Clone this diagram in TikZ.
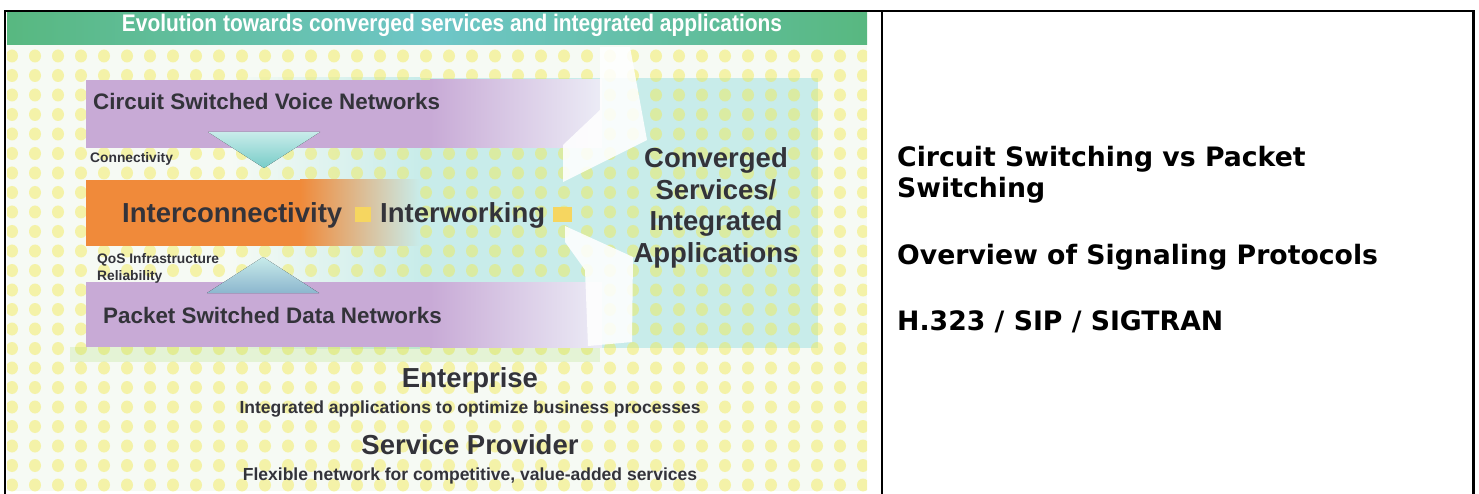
\documentclass[tikz,border=0pt]{standalone}
\usepackage{fontspec}
\usepackage{graphicx}
\setmainfont{Liberation Sans}
\newfontfamily\verdana{DejaVu Sans}
\newcommand\pxfont[1]{\fontsize{#1}{#1}\selectfont}
\definecolor{ink}{RGB}{51,51,58}
\definecolor{bgwash}{RGB}{246,250,244}
\definecolor{dotyellow}{RGB}{242,234,76}
\definecolor{titlegreen}{RGB}{88,184,128}
\definecolor{titleteal}{RGB}{110,198,200}
\definecolor{bandpurple}{RGB}{200,170,214}
\definecolor{bandpale}{RGB}{236,236,246}
\definecolor{bandorange}{RGB}{240,138,58}
\definecolor{cyanwash}{RGB}{200,236,234}
\definecolor{tricyan}{RGB}{120,204,200}
\definecolor{triblue}{RGB}{140,182,206}
\definecolor{spotyellow}{RGB}{246,214,96}
\tikzset{
  pic_txt/.style={inner sep=0pt, text=ink},
  label_big/.style={pic_txt, font=\pxfont{27.5}\bfseries},
  label_mid/.style={pic_txt, font=\pxfont{22.4}\bfseries},
  label_small/.style={pic_txt, font=\pxfont{13.8}\bfseries},
  label_sub/.style={pic_txt, font=\pxfont{17.5}\bfseries},
  topic/.style={inner sep=0pt, anchor=base west, font=\verdana\pxfont{26.7}\bfseries},
  arm/.style={fill=white, opacity=.88},
  tableline/.style={line width=2.5pt}
}
\begin{document}
\begin{tikzpicture}[x=1pt,y=-1pt]
\useasboundingbox (0,0) rectangle (1479,494);

\coordinate (pic_nw) at (7,13);
\coordinate (pic_se) at (867,491);

\begin{scope}
\clip (pic_nw) rectangle (pic_se);
\fill[bgwash] (pic_nw) rectangle (pic_se);
\fill[left color=bgwash, right color=cyanwash] (230,78) rectangle (420,348);
\fill[cyanwash] (420,78) rectangle (818,348);
\foreach \i in {0,...,37}
  \foreach \j in {0,...,22}
    \fill[dotyellow, opacity=.45] (12+\i*23, 56+\j*19.5) ellipse (6pt and 6.5pt);

\fill[left color=titlegreen, right color=titlegreen, middle color=titleteal] (7,13) rectangle (867,45);

\fill[yellow!50!green, opacity=.15] (70,347) rectangle (600,362);

\fill[bandpurple] (86,80) rectangle (430,148);
\fill[left color=bandpurple, right color=bandpale] (430,80) rectangle (602,148);
\fill[bandorange] (86,180) rectangle (300,246);
\fill[left color=bandorange, right color=cyanwash] (300,180) rectangle (420,246);
\fill[bandpurple] (86,282) rectangle (430,347);
\fill[left color=bandpurple, right color=bandpale] (430,282) rectangle (602,347);

\fill[top color=cyanwash, bottom color=tricyan] (208,132) -- (320,132) -- (264,168) -- cycle;
\fill[top color=cyanwash, bottom color=triblue] (207,293) -- (319,293) -- (263,257) -- cycle;

\fill[arm] (600,47) -- (630,47) -- (647,140) -- (563,182) -- (563,145) -- (600,110) -- cycle;
\fill[arm] (565,226) -- (633,257) -- (632,342) -- (588,346) -- (585,270) -- (565,242) -- cycle;

\fill[spotyellow] (355,207) rectangle (371,222);
\fill[spotyellow] (553,207) rectangle (572,222);
\end{scope}

\node[anchor=base, inner sep=0pt, text=white] (title) at (452,32)
  {\resizebox{660pt}{\height}{\pxfont{24}\bfseries Evolution towards converged services and integrated applications}};

\node[label_mid, anchor=base west] (net_voice) at (93,110) {Circuit Switched Voice Networks};
\node[label_small, anchor=base west] (txt_connect) at (90,163) {Connectivity};
\node[label_big, anchor=base west] (txt_interconn) at (122,223) {Interconnectivity};
\node[label_big, anchor=base west] (txt_interwork) at (380,223) {Interworking};
\node[label_small, anchor=base west] (txt_qos) at (97,263) {QoS Infrastructure};
\node[label_small, anchor=base west] (txt_reliab) at (97,280) {Reliability};
\node[label_mid, anchor=base west] (net_data) at (103,323) {Packet Switched Data Networks};

\foreach \txt [count=\k] in {Converged,Services/,Integrated,Applications}
  \node[label_big, anchor=base] (conv_\k) at (716,136.5+31.5*\k) {\txt};

\node[label_big, anchor=base] (txt_enterprise) at (470,387) {Enterprise};
\node[label_sub, anchor=base] (txt_enterprise_sub) at (470,413) {Integrated applications to optimize business processes};
\node[label_big, anchor=base] (txt_provider) at (470,454) {Service Provider};
\node[label_sub, anchor=base] (txt_provider_sub) at (470,480) {Flexible network for competitive, value-added services};

\node[topic] (topic_switching) at (897,167) {Circuit Switching vs Packet};
\node[topic] (topic_switching_b) at (897,198) {Switching};
\node[topic] (topic_signaling) at (897,264) {Overview of Signaling Protocols};
\node[topic] (topic_protocols) at (897,330) {H.323 / SIP / SIGTRAN};

\draw[tableline] (5,494) -- (5,11) -- (1473.5,11) -- (1473.5,494);
\draw[tableline] (882,11) -- (882,494);

\end{tikzpicture}
\end{document}
